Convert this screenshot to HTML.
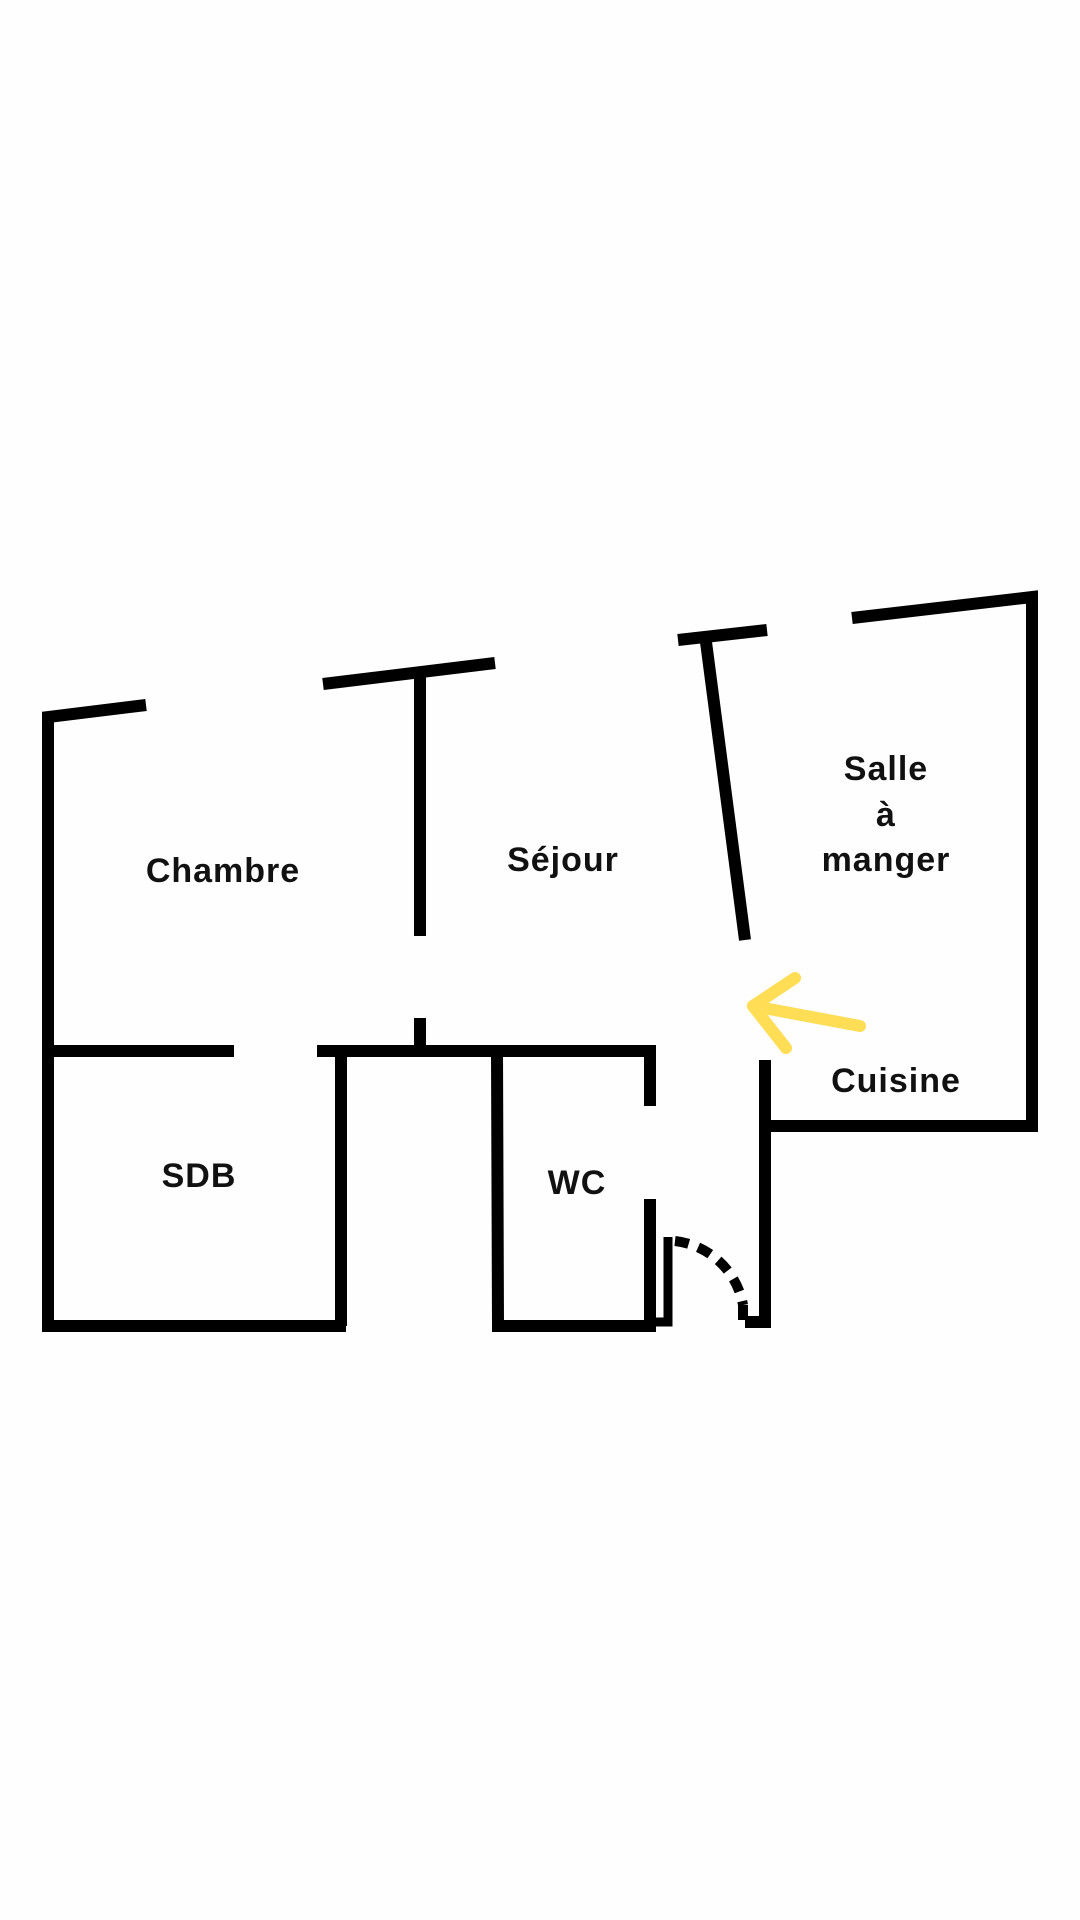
<!DOCTYPE html>
<html><head><meta charset="utf-8"><style>
html,body{margin:0;padding:0;background:#fefefe;}
svg{display:block}
text{font-family:"Liberation Sans",sans-serif;font-weight:bold;font-size:34px;letter-spacing:1px;fill:#111;text-anchor:middle}
</style></head><body>
<svg width="1080" height="1920" viewBox="0 0 1080 1920" xmlns="http://www.w3.org/2000/svg">
<g stroke="#000" stroke-width="12" fill="none" stroke-linecap="butt">
<polyline points="146,705 48,717 48,1326 346,1326 341,1326 341,1046"/>
<line x1="42" y1="1051" x2="234" y2="1051"/>
<polyline points="317,1051 650,1051 650,1106"/>
<line x1="420" y1="1018" x2="420" y2="1051"/>
<line x1="420" y1="675" x2="420" y2="936"/>
<line x1="323" y1="684" x2="495" y2="663"/>
<line x1="678" y1="640" x2="767" y2="630"/>
<line x1="706" y1="642" x2="745" y2="940"/>
<polyline points="852,618 1032,597 1032,1126 765,1126"/>
<polyline points="765,1060 765,1322 745,1322"/>
<polyline points="497,1051 498,1326 656,1326"/>
<line x1="650" y1="1199" x2="650" y2="1330"/>
<polyline points="668,1237 668,1322 650,1322" stroke-width="9"/>
<path d="M675,1241 A78,78 0 0 1 743,1305" stroke-width="10" stroke-dasharray="14,10"/>
<line x1="743" y1="1305" x2="743" y2="1320" stroke-width="10"/>
</g>
<g stroke="#FFDD55" stroke-width="12" fill="none" stroke-linecap="round" stroke-linejoin="round">
<line x1="860" y1="1026" x2="753" y2="1006"/>
<polyline points="795,978 753,1006 786,1048"/>
</g>
<text x="223" y="882">Chambre</text>
<text x="563" y="871">Séjour</text>
<text x="886" y="780">Salle</text>
<text x="886" y="826">à</text>
<text x="886" y="871">manger</text>
<text x="896" y="1092">Cuisine</text>
<text x="199" y="1187">SDB</text>
<text x="577" y="1194">WC</text>
</svg>
</body></html>
